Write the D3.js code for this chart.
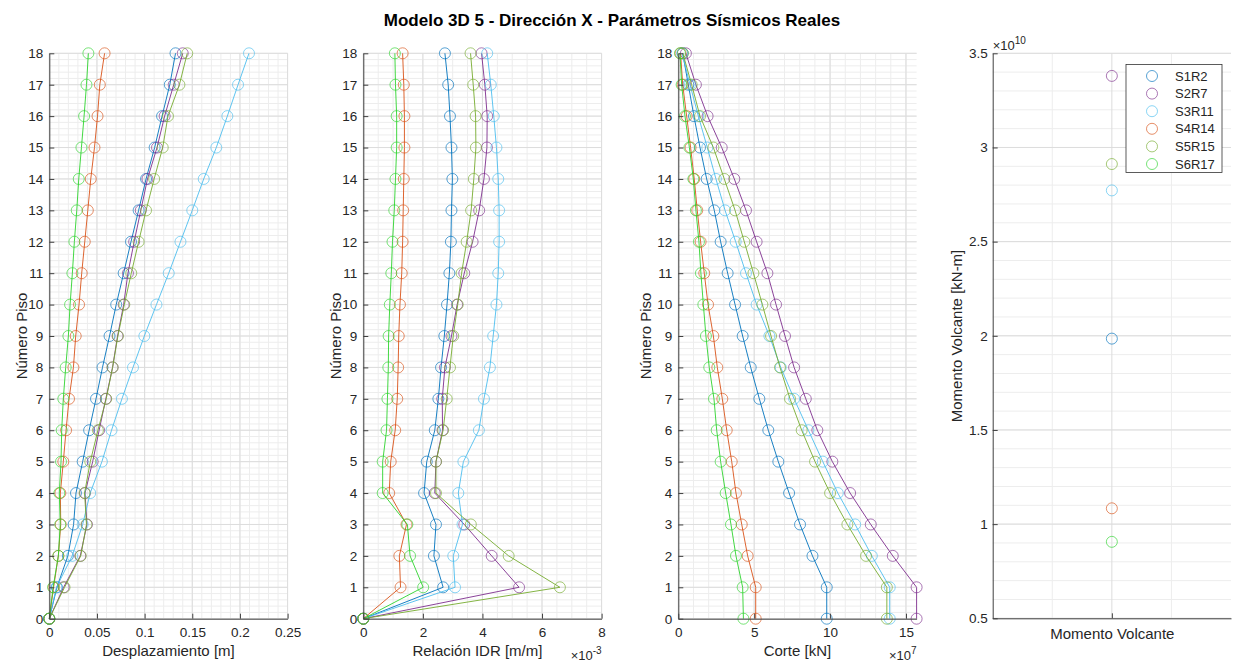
<!DOCTYPE html>
<html><head><meta charset="utf-8">
<script src="https://cdn.jsdelivr.net/npm/d3@7"></script>
<style>
body{margin:0;background:#fff;}
text{font-family:"Liberation Sans",Arial,sans-serif;fill:#262626;}
</style></head><body>
<svg id="c" width="1234" height="664"></svg>
<script>
// ---------------- DATA ----------------
const floors = [0,1,2,3,4,5,6,7,8,9,10,11,12,13,14,15,16,17,18];
const seriesNames = ["S1R2","S2R7","S3R11","S4R14","S5R15","S6R17"];
const seriesColors = ["#0072BD","#7E2F8E","#4DBEEE","#D95319","#77AC30","#2FD42F"];

// Desplazamiento [m]
const dispS1R2  = [0,0.008,0.0195,0.0255,0.028,0.035,0.0418,0.049,0.0558,0.0632,0.0702,0.078,0.0857,0.0937,0.1015,0.1105,0.1183,0.1264,0.1324];
const dispS2R7  = [0,0.015,0.0325,0.0395,0.0375,0.0455,0.0523,0.0593,0.0664,0.0716,0.078,0.0825,0.089,0.096,0.103,0.113,0.121,0.1305,0.140];
const dispS3R11 = [0,0.0075,0.024,0.035,0.0429,0.0552,0.0653,0.0762,0.0878,0.0997,0.1124,0.1253,0.1376,0.150,0.162,0.1752,0.1868,0.198,0.2095];
const dispS4R14 = [0,0.0045,0.0095,0.012,0.0116,0.0147,0.0176,0.0207,0.0253,0.0277,0.0312,0.034,0.0372,0.0404,0.0435,0.0474,0.0506,0.053,0.058];
const dispS5R15 = [0,0.016,0.033,0.039,0.037,0.043,0.051,0.0597,0.0664,0.072,0.0787,0.086,0.0937,0.1015,0.110,0.119,0.1245,0.1365,0.1447];
const dispS6R17 = [0,0.004,0.0095,0.0115,0.0105,0.0123,0.013,0.0147,0.0172,0.020,0.0218,0.0242,0.0263,0.0288,0.0309,0.0337,0.0365,0.039,0.041];

// Relación IDR [m/m] (x 1e-3)
const idrS1R2  = [0,2.68,2.37,2.44,2.04,2.13,2.40,2.52,2.61,2.72,2.81,2.89,2.94,2.96,2.99,2.96,2.91,2.85,2.74];
const idrS2R7  = [0,5.23,4.31,3.39,2.40,2.44,2.66,2.65,2.74,2.96,3.15,3.39,3.67,3.89,4.05,4.15,4.16,4.08,3.97];
const idrS3R11 = [0,3.08,3.02,3.33,3.19,3.36,3.88,4.05,4.25,4.36,4.47,4.53,4.56,4.56,4.53,4.47,4.38,4.28,4.16];
const idrS4R14 = [0,1.25,1.21,1.45,0.87,0.92,1.07,1.14,1.17,1.19,1.23,1.29,1.32,1.34,1.36,1.38,1.38,1.36,1.32];
const idrS5R15 = [0,6.60,4.88,3.61,2.44,2.44,2.68,2.80,2.91,3.02,3.17,3.30,3.47,3.62,3.71,3.78,3.77,3.69,3.60];
const idrS6R17 = [0,2.01,1.57,1.48,0.65,0.65,0.78,0.81,0.84,0.85,0.89,0.94,0.98,1.04,1.08,1.12,1.12,1.08,1.06];

// Corte [kN] (x 1e7)
const corteS1R2  = [9.78,9.78,8.84,8.02,7.30,6.59,5.93,5.34,4.77,4.24,3.74,3.25,2.79,2.37,1.87,1.43,1.03,0.66,0.29];
const corteS2R7  = [15.7,15.7,14.13,12.68,11.32,10.15,9.16,8.40,7.63,7.03,6.44,5.87,5.16,4.46,3.69,2.86,1.93,1.16,0.50];
const corteS3R11 = [13.93,13.93,12.75,11.65,10.51,9.52,8.57,7.63,6.75,6.00,5.16,4.46,3.78,3.08,2.48,1.91,1.32,0.77,0.25];
const corteS4R14 = [5.10,5.10,4.57,4.18,3.80,3.52,3.19,2.90,2.57,2.31,1.96,1.71,1.47,1.25,1.05,0.81,0.55,0.29,0.15];
const corteS5R15 = [13.74,13.74,12.37,11.14,10.00,9.01,8.13,7.36,6.70,6.11,5.54,4.95,4.35,3.74,3.03,2.31,1.43,0.88,0.30];
const corteS6R17 = [4.29,4.24,3.80,3.47,3.12,2.79,2.53,2.35,2.04,1.82,1.65,1.49,1.36,1.16,0.99,0.73,0.44,0.22,0.11];

// Momento Volcante [kN-m] (x 1e10)
const momentoVolcante = [1.985,3.38,2.772,1.084,2.912,0.906];

// Tick labels
const ticksDisp = [0,0.05,0.1,0.15,0.2,0.25];
const ticksIdr = [0,2,4,6,8];
const ticksCorte = [0,5,10,15];
const ticksFloor = floors;
const ticksMomento = [0.5,1,1.5,2,2.5,3,3.5];
const categoryLabel = ["Momento Volcante"];

// ---------------- LAYOUT ----------------
const svg = d3.select("#c");
const pTop = 53.3, pBottom = 618.7, pw = 238.3;
const lefts = [49.3, 363.3, 678.3, 992.7];
const AX = "#404040";
const MR = 5.5;

svg.append("text").attr("x",612).attr("y",26).attr("text-anchor","middle")
  .style("font-size","17px").style("font-weight","bold").style("fill","#000")
  .text("Modelo 3D 5 - Dirección X - Parámetros Sísmicos Reales");

function drawGrid(g, x, y, xMinor, xMajor, yMinor, yMajor){
  const gx = g.append("g");
  const [x0,x1] = x.range(), [y0,y1] = y.range();
  xMinor.forEach(v=>gx.append("line").attr("x1",x(v)).attr("x2",x(v)).attr("y1",y0).attr("y2",y1).attr("stroke","#ededed").attr("stroke-width",1));
  yMinor.forEach(v=>gx.append("line").attr("y1",y(v)).attr("y2",y(v)).attr("x1",x0).attr("x2",x1).attr("stroke","#ededed").attr("stroke-width",1));
  xMajor.forEach(v=>gx.append("line").attr("x1",x(v)).attr("x2",x(v)).attr("y1",y0).attr("y2",y1).attr("stroke","#dcdcdc").attr("stroke-width",1));
  yMajor.forEach(v=>gx.append("line").attr("y1",y(v)).attr("y2",y(v)).attr("x1",x0).attr("x2",x1).attr("stroke","#dcdcdc").attr("stroke-width",1));
}

function styleAxis(s){
  s.select(".domain").attr("stroke",AX);
  s.selectAll(".tick line").attr("stroke",AX);
  s.selectAll(".tick text").style("font-size","13.5px").style("fill","#262626").attr("font-family",null);
}

function drawAxes(g, x, y, xt, yt, xfmt, yfmt){
  const ax = d3.axisBottom(x).tickValues(xt).tickSizeInner(-5).tickSizeOuter(0).tickPadding(8.5).tickFormat(xfmt);
  const ay = d3.axisLeft(y).tickValues(yt).tickSizeInner(-5).tickSizeOuter(0).tickPadding(6).tickFormat(yfmt);
  const gb = g.append("g").attr("transform",`translate(0,${y.range()[0]})`).call(ax);
  const gl = g.append("g").attr("transform",`translate(${x.range()[0]},0)`).call(ay);
  styleAxis(gb); styleAxis(gl);
}

function drawSeries(g, x, y, arrays){
  arrays.forEach((arr,i)=>{
    const pts = arr.map((v,k)=>[x(v), y(floors[k])]);
    g.append("path").attr("d", d3.line()(pts)).attr("fill","none")
      .attr("stroke", seriesColors[i]).attr("stroke-width",1).attr("stroke-opacity",0.9);
    g.selectAll(null).data(pts).enter().append("circle")
      .attr("cx",d=>d[0]).attr("cy",d=>d[1]).attr("r",MR)
      .attr("fill","none").attr("stroke",seriesColors[i]).attr("stroke-width",1).attr("stroke-opacity",0.65);
  });
}

function yLabel(xb, txt){
  svg.append("text").attr("transform",`translate(${xb},${(pTop+pBottom)/2}) rotate(-90)`)
    .attr("text-anchor","middle").style("font-size","15px").text(txt);
}
function xLabel(cx, txt){
  svg.append("text").attr("x",cx).attr("y",656).attr("text-anchor","middle").style("font-size","15px").text(txt);
}
function expLabel(xr, yb, exp, anchor){
  const t = svg.append("text").attr("x",xr).attr("y",yb).attr("text-anchor",anchor).style("font-size","13px");
  t.append("tspan").text("×10");
  t.append("tspan").attr("dy",-6).style("font-size","10px").text(exp);
}

const fmt = d3.format("~g");

// Panel 1 - Desplazamiento
{
  const g = svg.append("g");
  const x = d3.scaleLinear().domain([0,0.25]).range([lefts[0], lefts[0]+pw]);
  const y = d3.scaleLinear().domain([0,18]).range([pBottom, pTop]);
  drawGrid(g,x,y,d3.range(0,0.2501,0.01),ticksDisp,d3.range(0,18.01,0.2),ticksFloor);
  drawSeries(g,x,y,[dispS1R2,dispS2R7,dispS3R11,dispS4R14,dispS5R15,dispS6R17]);
  drawAxes(g,x,y,ticksDisp,ticksFloor,fmt,fmt);
  yLabel(27,"Número Piso");
  xLabel(lefts[0]+pw/2,"Desplazamiento [m]");
}
// Panel 2 - IDR
{
  const g = svg.append("g");
  const x = d3.scaleLinear().domain([0,8]).range([lefts[1], lefts[1]+pw]);
  const y = d3.scaleLinear().domain([0,18]).range([pBottom, pTop]);
  drawGrid(g,x,y,d3.range(0,8.01,0.5),ticksIdr,d3.range(0,18.01,0.2),ticksFloor);
  drawSeries(g,x,y,[idrS1R2,idrS2R7,idrS3R11,idrS4R14,idrS5R15,idrS6R17]);
  drawAxes(g,x,y,ticksIdr,ticksFloor,fmt,fmt);
  yLabel(341,"Número Piso");
  xLabel(lefts[1]+pw/2-5,"Relación IDR [m/m]");
  expLabel(lefts[1]+pw,660,"-3","end");
}
// Panel 3 - Corte
{
  const g = svg.append("g");
  const x = d3.scaleLinear().domain([0,15.7]).range([lefts[2], lefts[2]+pw]);
  const y = d3.scaleLinear().domain([0,18]).range([pBottom, pTop]);
  drawGrid(g,x,y,d3.range(0,15.71,1),ticksCorte,d3.range(0,18.01,0.2),ticksFloor);
  drawSeries(g,x,y,[corteS1R2,corteS2R7,corteS3R11,corteS4R14,corteS5R15,corteS6R17]);
  drawAxes(g,x,y,ticksCorte,ticksFloor,fmt,fmt);
  yLabel(651,"Número Piso");
  xLabel(lefts[2]+pw/2,"Corte [kN]");
  expLabel(lefts[2]+pw,660,"7","end");
}
// Panel 4 - Momento Volcante
{
  const g = svg.append("g");
  const x = d3.scaleLinear().domain([0.5,1.5]).range([lefts[3], lefts[3]+pw]);
  const y = d3.scaleLinear().domain([0.5,3.5]).range([618.3, pTop]);
  drawGrid(g,x,y,[0.75,1.25],[1],d3.range(0.5,3.501,0.1),ticksMomento);
  momentoVolcante.forEach((v,i)=>{
    g.append("circle").attr("cx",x(1)).attr("cy",y(v)).attr("r",MR)
      .attr("fill","none").attr("stroke",seriesColors[i]).attr("stroke-width",1).attr("stroke-opacity",0.65);
  });
  const ax = d3.axisBottom(x).tickValues([1]).tickSizeInner(-5).tickSizeOuter(0).tickPadding(10).tickFormat(()=>categoryLabel[0]);
  const ay = d3.axisLeft(y).tickValues(ticksMomento).tickSizeInner(-5).tickSizeOuter(0).tickPadding(5).tickFormat(fmt);
  const gb = g.append("g").attr("transform",`translate(0,618.3)`).call(ax);
  const gl = g.append("g").attr("transform",`translate(${lefts[3]},0)`).call(ay);
  styleAxis(gb); styleAxis(gl);
  gb.selectAll(".tick text").style("font-size","15px");
  yLabel(962,"Momento Volcante [kN-m]");
  expLabel(lefts[3],50,"10","start");

  // legend
  const lg = svg.append("g");
  lg.append("rect").attr("x",1126).attr("y",64.5).attr("width",96).attr("height",108)
    .attr("fill","#fff").attr("stroke","#333").attr("stroke-width",0.8);
  seriesNames.forEach((n,i)=>{
    const yy = 76 + i*17.6;
    lg.append("circle").attr("cx",1152).attr("cy",yy).attr("r",MR).attr("fill","none")
      .attr("stroke",seriesColors[i]).attr("stroke-width",1).attr("stroke-opacity",0.65);
    lg.append("text").attr("x",1175).attr("y",yy+4.5).style("font-size","13px").text(n);
  });
}
</script>
</body></html>
